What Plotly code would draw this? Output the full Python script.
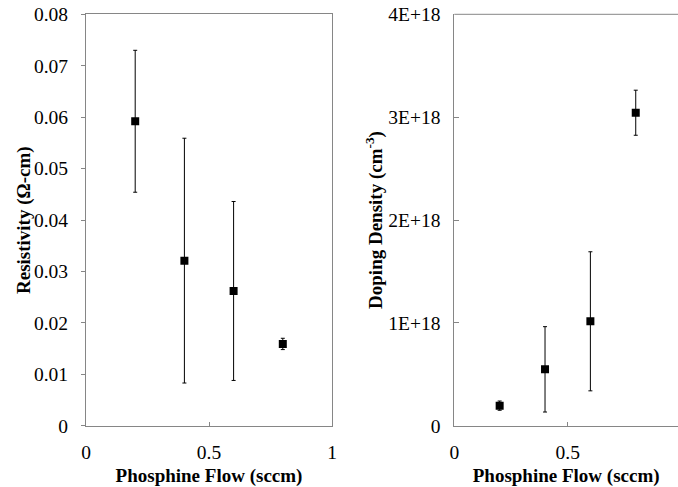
import plotly.graph_objects as go

flow = [0.2, 0.4, 0.6, 0.8]
resistivity = [0.0592, 0.0321, 0.0262, 0.0159]
resistivity_err = [0.0138, 0.0238, 0.0174, 0.0011]
doping = [0.195e18, 0.548e18, 1.015e18, 3.043e18]
doping_err = [0.045e18, 0.415e18, 0.676e18, 0.219e18]

res_ticks = [0, 0.01, 0.02, 0.03, 0.04, 0.05, 0.06, 0.07, 0.08]
res_ticktext = ["0", "0.01", "0.02", "0.03", "0.04", "0.05", "0.06", "0.07", "0.08"]
dop_ticks = [0, 1e18, 2e18, 3e18, 4e18]
dop_ticktext = ["0", "1E+18", "2E+18", "3E+18", "4E+18"]
x_ticks = [0, 0.5, 1]
x_ticktext = ["0", "0.5", "1"]

W, H = 678, 487
FONT = "Liberation Serif"
AX = "#868686"

fig = go.Figure()
marker = dict(symbol="square", size=8, color="black")
fig.add_trace(go.Scatter(x=flow, y=resistivity, mode="markers", marker=marker,
                         error_y=dict(type="data", array=resistivity_err, color="black",
                                      thickness=1, width=2),
                         xaxis="x", yaxis="y", showlegend=False))
fig.add_trace(go.Scatter(x=flow, y=doping, mode="markers", marker=marker,
                         error_y=dict(type="data", array=doping_err, color="black",
                                      thickness=1, width=2),
                         xaxis="x2", yaxis="y2", showlegend=False))

def px(x):
    return x / W

def py(y):
    return (H - y) / H

L1, R1 = 86, 332
L2 = 454.3
B, T = 425.7, 14.3
x2_end = (W - L2) / (2 * (567.7 - L2))

tick_font = dict(family=FONT, size=19.5, color="black")
title_font = dict(family=FONT, size=19, color="black")

common = dict(showgrid=False, zeroline=False, showline=True, linecolor=AX, linewidth=1,
              tickcolor=AX, tickfont=tick_font, automargin=False, ticklabelstandoff=9)

fig.update_layout(
    width=W, height=H,
    margin=dict(l=0, r=0, t=0, b=0),
    paper_bgcolor="white", plot_bgcolor="white",
    font=dict(family=FONT, color="black"),
    xaxis=dict(domain=[px(L1), px(R1)], range=[0, 1], tickvals=x_ticks, ticktext=x_ticktext,
               mirror=True, ticks="inside", ticklen=4,
               title=dict(text="<b>Phosphine Flow (sccm)</b>", font=title_font, standoff=6),
               anchor="y", **common),
    yaxis=dict(domain=[py(B), py(T)], range=[0, 0.08], tickvals=res_ticks, ticktext=res_ticktext,
               mirror=True, ticks="outside", ticklen=4,
               anchor="x", **common),
    xaxis2=dict(domain=[px(L2), 1], range=[0, x2_end], tickvals=x_ticks, ticktext=x_ticktext,
                ticks="inside", ticklen=4,
                title=dict(text="<b>Phosphine Flow (sccm)</b>", font=title_font, standoff=6),
                anchor="y2", **common),
    yaxis2=dict(domain=[py(B), py(T)], range=[0, 4e18], tickvals=dop_ticks, ticktext=dop_ticktext,
                ticks="inside", ticklen=5,
                title=dict(text="<b>Doping Density (cm<sup>-3</sup>)</b>", font=title_font, standoff=0),
                anchor="x2", **common),
    shapes=[dict(type="line", xref="paper", yref="paper", x0=px(L2), x1=1, y0=py(T), y1=py(T),
                 line=dict(color=AX, width=1))],
    annotations=[dict(text="<b>Resistivity (Ω-cm)</b>", textangle=-90, font=title_font,
                      xref="paper", yref="paper", x=px(24), y=(py(B) + py(T)) / 2,
                      xanchor="center", yanchor="middle", showarrow=False)],
)

fig.write_html("out.html")
